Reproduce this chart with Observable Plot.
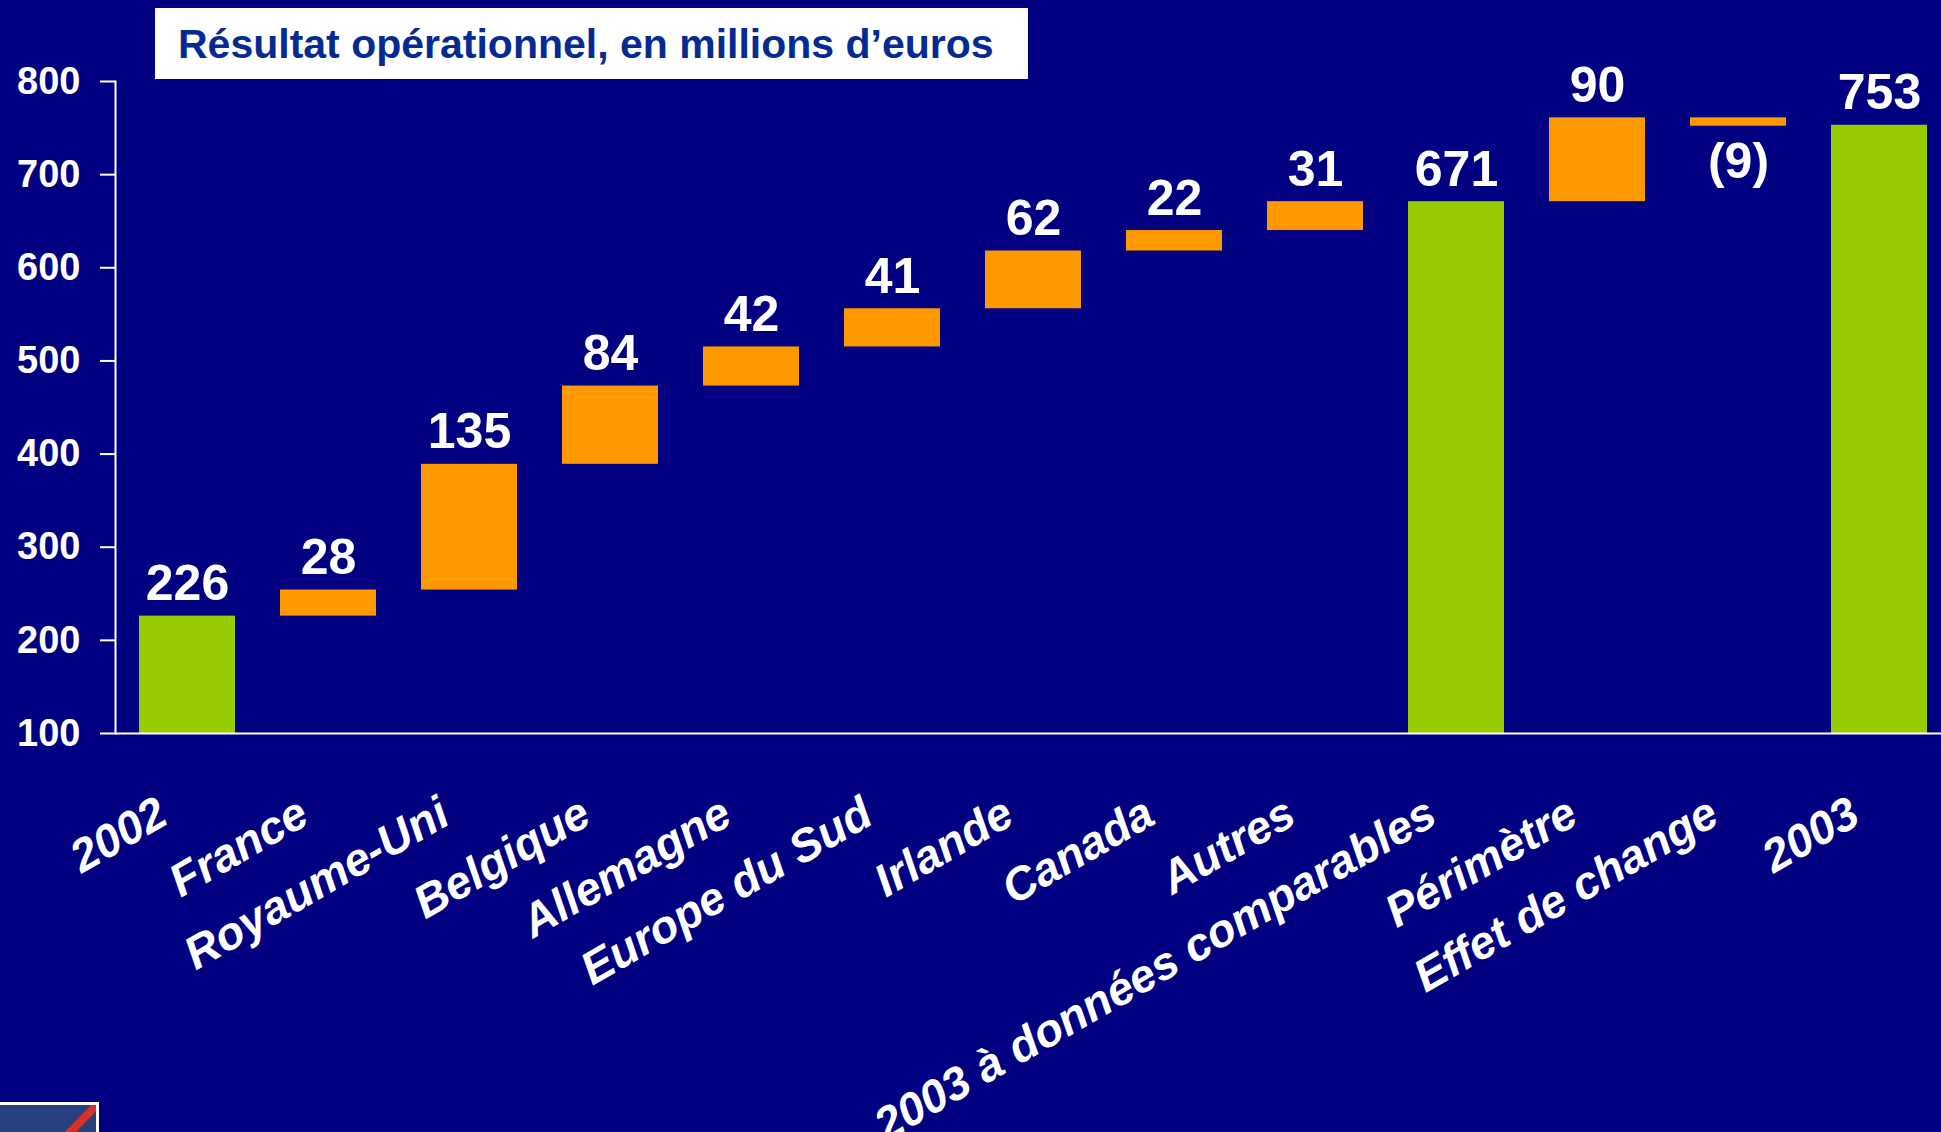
<!DOCTYPE html>
<html>
<head>
<meta charset="utf-8">
<script src="https://cdn.jsdelivr.net/npm/d3@7"></script>
<script src="https://cdn.jsdelivr.net/npm/@observablehq/plot@0.6"></script>
<style>
  html, body { margin: 0; padding: 0; background: #000080; width: 1941px; height: 1132px; overflow: hidden; }
  #wrap { position: relative; width: 1941px; height: 1132px; }
  #chart { position: absolute; left: 0; top: 0; }
  #title {
    position: absolute; left: 155px; top: 8px; width: 850px; height: 69px; padding: 2px 0 0 23px;
    background: #ffffff; color: #062a94; font: bold 41px "Liberation Sans", Arial, sans-serif;
    line-height: 69px; white-space: nowrap;
  }
  #logo {
    position: absolute; left: 0; top: 1102px; width: 96px; height: 30px;
    border-top: 3px solid #fff; border-right: 3px solid #fff; background: #28407f; overflow: hidden;
  }
  #logo div { position: absolute; left: 80px; top: -17px; width: 8px; height: 60px; background: #d8302a; transform: rotate(44deg); }
</style>
</head>
<body>
<div id="wrap">
  <div id="chart"></div>
  <div id="title">Résultat opérationnel, en millions d’euros</div>
  <div id="logo"><div></div></div>
</div>
<script>
const categories = ["2002", "France", "Royaume-Uni", "Belgique", "Allemagne", "Europe du Sud", "Irlande", "Canada", "Autres", "2003 à données comparables", "Périmètre", "Effet de change", "2003"];
const values = [226, 28, 135, 84, 42, 41, 62, 22, 31, 671, 90, -9, 753];
const kinds = ["total", "delta", "delta", "delta", "delta", "delta", "delta", "delta", "delta", "total", "delta", "delta", "total"];
const valueLabels = ["226", "28", "135", "84", "42", "41", "62", "22", "31", "671", "90", "(9)", "753"];
const yTicks = [100, 200, 300, 400, 500, 600, 700, 800];

// Build waterfall rows (start/end from running totals)
let running = 0;
const rows = categories.map((cat, i) => {
  const v = values[i];
  let start, end;
  if (kinds[i] === "total") { start = 0; end = v; running = v; }
  else { start = running; end = running + v; running = end; }
  return { cat, kind: kinds[i], start, end, top: Math.max(start, end), bottom: Math.min(start, end), label: valueLabels[i], neg: v < 0 };
});

const white = "#ffffff";
const chart = Plot.plot({
  width: 1941,
  height: 1132,
  marginLeft: 115,
  marginRight: 0,
  marginTop: 81,
  marginBottom: 399,
  style: { background: "#000080", fontFamily: "'Liberation Sans', Arial, sans-serif", fontWeight: "bold", color: white },
  x: { type: "band", domain: categories, range: [135, 1930.5], paddingInner: 0.32, paddingOuter: 0, axis: null },
  y: { domain: [100, 800], axis: null },
  color: { domain: ["total", "delta"], range: ["#99cc00", "#ff9900"] },
  marks: [
    Plot.barY(rows, { x: "cat", y1: "start", y2: "end", fill: "kind", clip: true }),
    Plot.ruleY([100], { stroke: white, strokeWidth: 2 }),
    Plot.frame({ anchor: "left", stroke: white, strokeWidth: 2 }),
    Plot.axisY({ ticks: yTicks, tickSize: 15, tickPadding: 20, fontSize: 38, fontWeight: "bold", stroke: white, fill: white, strokeWidth: 2, tickFormat: d => String(d) }),
    Plot.text(rows.filter(d => !d.neg), { x: "cat", y: "top", text: "label", dy: -16, lineAnchor: "bottom", fontSize: 50, fontWeight: "bold", fill: white }),
    Plot.text(rows.filter(d => d.neg), { x: "cat", y: "bottom", text: "label", dy: 52, lineAnchor: "bottom", fontSize: 50, fontWeight: "bold", fill: white }),
    Plot.text(rows, { x: "cat", text: "cat", frameAnchor: "bottom", dx: -17, dy: 89, rotate: -30, textAnchor: "end", lineAnchor: "bottom", fontSize: 46, fontStyle: "italic", fontWeight: "bold", fill: white })
  ]
});
document.getElementById("chart").appendChild(chart);
</script>
</body>
</html>
